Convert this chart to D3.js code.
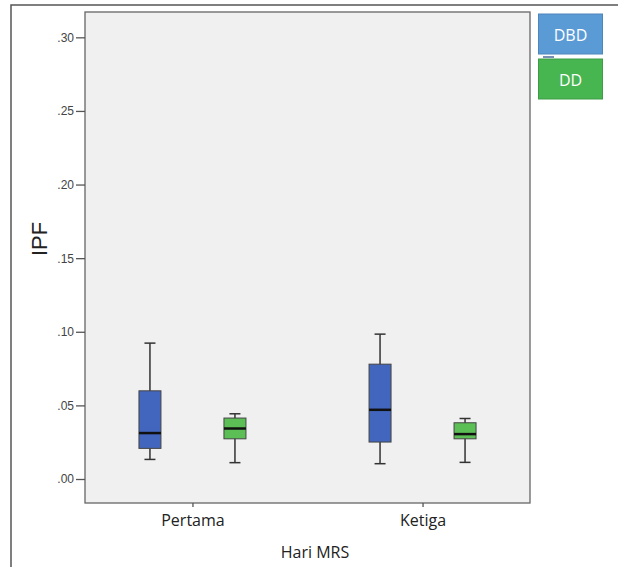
<!DOCTYPE html>
<html>
<head>
<meta charset="utf-8">
<script src="https://cdn.jsdelivr.net/npm/d3@7"></script>
<style>
    body { margin: 0; background: #fff; }
    svg { display: block; }
</style>
</head>
<body>
<div id="content"></div>
<script>
// ******* DATA *******
const categories = ["Pertama", "Ketiga"];
const groups = ["DBD", "DD"];

// box stats per group, one entry per category (min, q1, median, q3, max)
const dbdStats = [
    { min: 0.0133, q1: 0.0208, median: 0.0312, q3: 0.0599, max: 0.0923 },
    { min: 0.0104, q1: 0.0251, median: 0.0470, q3: 0.0780, max: 0.0984 }
];
const ddStats = [
    { min: 0.0111, q1: 0.0273, median: 0.0343, q3: 0.0414, max: 0.0443 },
    { min: 0.0113, q1: 0.0273, median: 0.0305, q3: 0.0382, max: 0.0411 }
];
const yTicks = [0, 0.05, 0.10, 0.15, 0.20, 0.25, 0.30];

const boxColors = { DBD: "#4266bd", DD: "#5cbf55" };
const legendColors = { DBD: "#5b9bd5", DD: "#47b550" };

// ******* LAYOUT *******
const width = 618, height = 567;
const panel = { left: 85, right: 530, top: 12, bottom: 503 };

const svg = d3.select("#content").append("svg")
    .attr("width", width)
    .attr("height", height);

// outer frame (left and top edges only)
svg.append("path")
    .attr("d", `M11,${height} L11,5 L${width},5`)
    .attr("fill", "none")
    .attr("stroke", "#555")
    .attr("stroke-width", 1.5);

// plot panel
svg.append("rect")
    .attr("x", panel.left)
    .attr("y", panel.top)
    .attr("width", panel.right - panel.left)
    .attr("height", panel.bottom - panel.top)
    .attr("fill", "#f0f0f0")
    .attr("stroke", "#666")
    .attr("stroke-width", 1.3);

// ******* SCALES *******
const y = d3.scaleLinear()
    .domain([-0.0163, 0.3172])
    .range([panel.bottom, panel.top]);

const x = d3.scalePoint()
    .domain(categories)
    .range([panel.left, panel.right])
    .padding(0.467);

const xSub = d3.scaleBand()
    .domain(groups)
    .range([-85, 85]);

const boxW = 22, capW = 11;

// ******* AXES *******
const yAxis = svg.append("g")
    .attr("transform", `translate(${panel.left},0)`)
    .call(d3.axisLeft(y).tickValues(yTicks).tickSize(9).tickPadding(2)
        .tickFormat(d => d3.format(".2f")(d).replace(/^0/, "")));
yAxis.select(".domain").remove();
yAxis.selectAll("line").attr("stroke", "#555").attr("stroke-width", 1.3);
yAxis.selectAll("text")
    .attr("fill", "#444")
    .style("font-family", "'Liberation Sans', Arial, sans-serif")
    .style("font-size", "12px");

const xAxis = svg.append("g")
    .attr("transform", `translate(0,${panel.bottom})`)
    .call(d3.axisBottom(x).tickSize(4).tickPadding(8));
xAxis.select(".domain").remove();
xAxis.selectAll("line").attr("stroke", "#555").attr("stroke-width", 1.3);
xAxis.selectAll("text")
    .attr("fill", "#222")
    .style("font-family", "'Open Sans', sans-serif")
    .style("font-size", "16px");

// axis titles
svg.append("text")
    .attr("transform", "translate(46.5,239) rotate(-90)")
    .attr("text-anchor", "middle")
    .attr("fill", "#222")
    .style("font-family", "'Liberation Sans', Arial, sans-serif")
    .style("font-size", "22px")
    .text("IPF");

svg.append("text")
    .attr("x", 315)
    .attr("y", 558)
    .attr("text-anchor", "middle")
    .attr("fill", "#222")
    .style("font-family", "'Open Sans', sans-serif")
    .style("font-size", "16px")
    .text("Hari MRS");

// ******* BOXES *******
const boxData = [];
categories.forEach((c, i) => {
    boxData.push({ cat: c, group: "DBD", ...dbdStats[i] });
    boxData.push({ cat: c, group: "DD", ...ddStats[i] });
});

const boxes = svg.append("g").selectAll("g")
    .data(boxData)
    .join("g")
    .attr("transform", d => `translate(${x(d.cat) + xSub(d.group) + xSub.bandwidth() / 2},0)`);

// whiskers
boxes.append("line")
    .attr("x1", 0).attr("x2", 0)
    .attr("y1", d => y(d.max)).attr("y2", d => y(d.min))
    .attr("stroke", "#333").attr("stroke-width", 1.5);

// caps
boxes.selectAll(".cap")
    .data(d => [d.min, d.max])
    .join("line")
    .attr("class", "cap")
    .attr("x1", -capW / 2).attr("x2", capW / 2)
    .attr("y1", v => y(v)).attr("y2", v => y(v))
    .attr("stroke", "#333").attr("stroke-width", 1.5);

// box body
boxes.append("rect")
    .attr("x", -boxW / 2)
    .attr("width", boxW)
    .attr("y", d => y(d.q3))
    .attr("height", d => y(d.q1) - y(d.q3))
    .attr("fill", d => boxColors[d.group])
    .attr("stroke", "#444")
    .attr("stroke-width", 1);

// median
boxes.append("line")
    .attr("x1", -boxW / 2).attr("x2", boxW / 2)
    .attr("y1", d => y(d.median)).attr("y2", d => y(d.median))
    .attr("stroke", "#111").attr("stroke-width", 2.5);

// ******* LEGEND *******
const legend = svg.append("g").selectAll("g")
    .data(groups)
    .join("g")
    .attr("transform", (d, i) => `translate(538.5,${14 + i * 45})`);

legend.append("rect")
    .attr("width", 64)
    .attr("height", 40)
    .attr("fill", d => legendColors[d])
    .attr("stroke", d => d3.color(legendColors[d]).darker(0.4))
    .attr("stroke-width", 1);

legend.append("text")
    .attr("x", 32)
    .attr("y", 26.5)
    .attr("text-anchor", "middle")
    .attr("fill", "#fff")
    .style("font-family", "'Open Sans', sans-serif")
    .style("font-size", "16px")
    .text(d => d);

// small dash between legend entries
svg.append("line")
    .attr("x1", 543).attr("x2", 554)
    .attr("y1", 57).attr("y2", 57)
    .attr("stroke", "#4a6a9a").attr("stroke-width", 1.5);
</script>
</body>
</html>
